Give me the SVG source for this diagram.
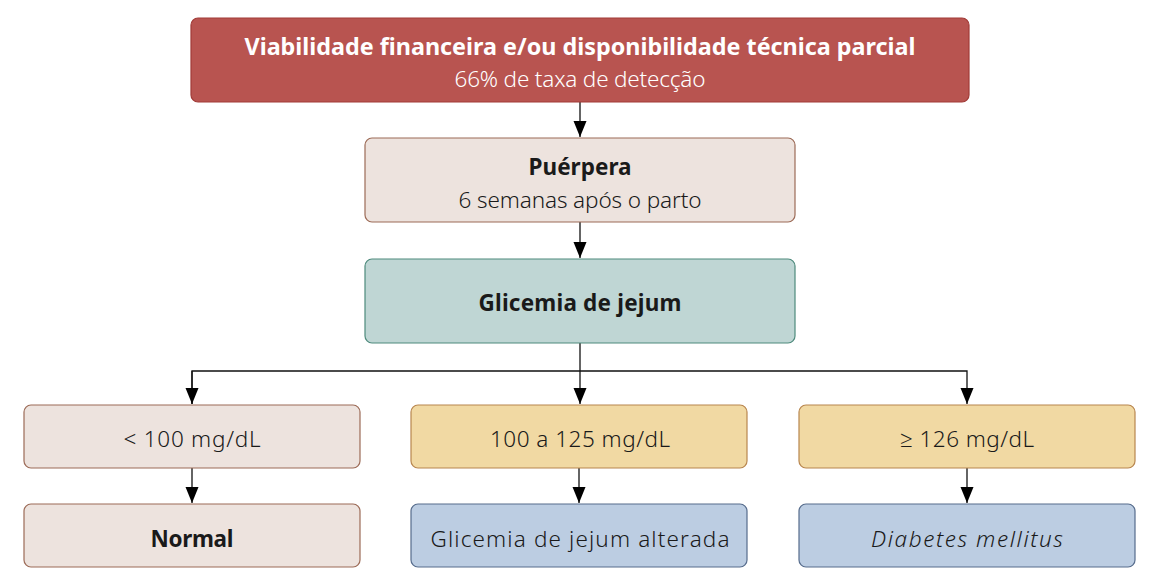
<svg xmlns="http://www.w3.org/2000/svg" width="1171" height="585" viewBox="0 0 1171 585">
<style>
text{font-family:"Noto Sans","Open Sans","Liberation Sans",sans-serif;text-anchor:middle;fill:#1a1a1a}
.b{font-weight:bold;font-size:22.5px}
.s{font-size:22.5px;font-weight:300}
.w{fill:#ffffff}
.red{fill:#b85450;stroke:#a13b37;stroke-width:1.2}
.beige{fill:#ede3de;stroke:#9c6b57;stroke-width:1.2}
.teal{fill:#bfd6d4;stroke:#4e8a7c;stroke-width:1.2}
.yel{fill:#f1d9a3;stroke:#b8864f;stroke-width:1.2}
.blue{fill:#bccde2;stroke:#566c8c;stroke-width:1.2}
.c{fill:none;stroke:#111;stroke-width:1.3}
</style>
<defs>
<marker id="ah" markerWidth="17" markerHeight="14" refX="16" refY="6.5" orient="auto" markerUnits="userSpaceOnUse">
<path d="M0,0 L16,6.5 L0,13 Z" fill="#000"/>
</marker>
</defs>
<g id="connectors">
<path class="c" d="M580,102 V137" marker-end="url(#ah)"/>
<path class="c" d="M580,222 V258" marker-end="url(#ah)"/>
<path class="c" d="M580,343 V404" marker-end="url(#ah)"/>
<path class="c" d="M192,404 V371 H967 V404" marker-end="url(#ah)"/>
<path class="c" d="M192,371 V404" marker-end="url(#ah)"/>
<path class="c" d="M192,468 V503" marker-end="url(#ah)"/>
<path class="c" d="M579,468 V503" marker-end="url(#ah)"/>
<path class="c" d="M967,468 V503" marker-end="url(#ah)"/>
</g>
<g id="n-top">
<rect class="red" x="191" y="18" width="778" height="84" rx="7"/>
<text class="b w" x="580" y="55" textLength="671" lengthAdjust="spacingAndGlyphs">Viabilidade financeira e/ou disponibilidade técnica parcial</text>
<text class="s w" x="580" y="87" textLength="251">66% de taxa de detecção</text>
</g>
<g id="n-puerpera">
<rect class="beige" x="365" y="138" width="430" height="84" rx="7"/>
<text class="b" x="580" y="175" textLength="103">Puérpera</text>
<text class="s" x="580" y="208" textLength="243">6 semanas após o parto</text>
</g>
<g id="n-glicemia">
<rect class="teal" x="365" y="259" width="430" height="84" rx="7"/>
<text class="b" x="580" y="311" textLength="203">Glicemia de jejum</text>
</g>
<g id="n-lt100">
<rect class="beige" x="24" y="405" width="336" height="63" rx="7"/>
<text class="s" x="192" y="447" textLength="137">&lt; 100 mg/dL</text>
</g>
<g id="n-100-125">
<rect class="yel" x="411" y="405" width="336" height="63" rx="7"/>
<text class="s" x="580" y="447" textLength="180">100 a 125 mg/dL</text>
</g>
<g id="n-ge126">
<rect class="yel" x="799" y="405" width="336" height="63" rx="7"/>
<text class="s" x="967" y="447" textLength="134">≥ 126 mg/dL</text>
</g>
<g id="n-normal">
<rect class="beige" x="24" y="504" width="336" height="63" rx="7"/>
<text class="b" x="192" y="547" textLength="83">Normal</text>
</g>
<g id="n-alterada">
<rect class="blue" x="411" y="504" width="336" height="63" rx="7"/>
<text class="s" x="580" y="547" textLength="299">Glicemia de jejum alterada</text>
</g>
<g id="n-diabetes">
<rect class="blue" x="799" y="504" width="336" height="63" rx="7"/>
<text class="s" x="967" y="547" font-style="italic" textLength="192">Diabetes mellitus</text>
</g>
</svg>
